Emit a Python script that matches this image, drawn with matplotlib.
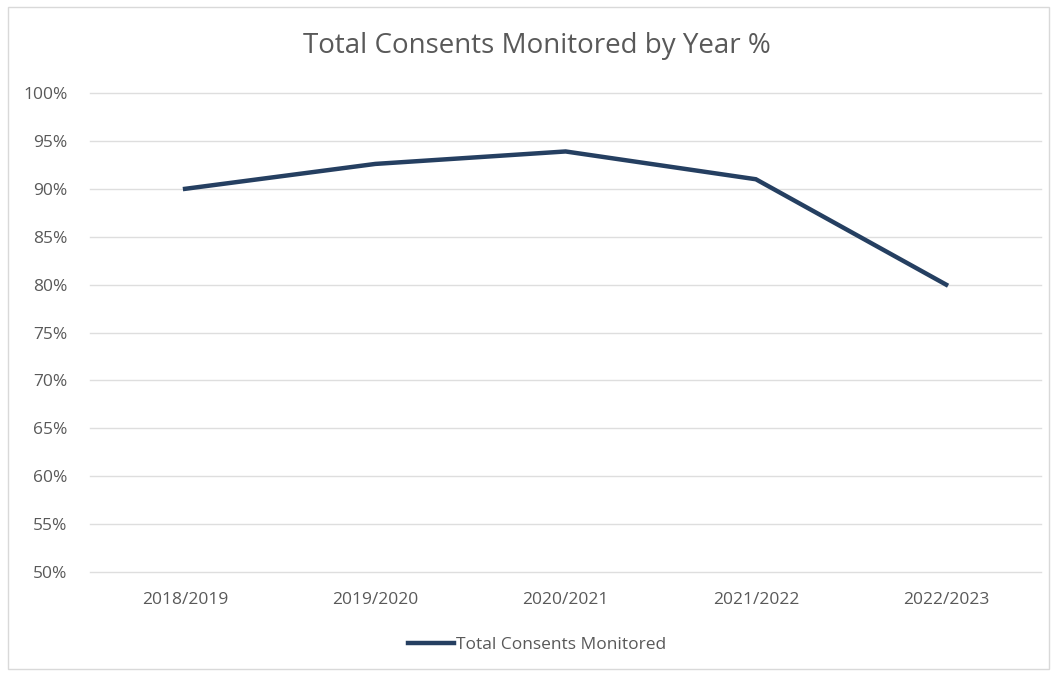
import matplotlib
matplotlib.use("Agg")
import matplotlib.pyplot as plt
from matplotlib.patches import Rectangle
from matplotlib.ticker import MultipleLocator, FuncFormatter

# data
years = ['2018/2019', '2019/2020', '2020/2021', '2021/2022', '2022/2023']
monitored = [90.0, 92.6, 93.9, 91.0, 80.0]

line_col = '#253f61'
text_col = '#595959'
grid_col = '#dedede'

plt.rcParams['font.family'] = ['Open Sans', 'DejaVu Sans']

fig = plt.figure(figsize=(10.57, 6.77), dpi=100)
ax = fig.add_axes([0.0851, 0.155, 0.9, 0.7076])

# chart frame
fig.patches.append(Rectangle((0.008, 0.012), 0.984, 0.977, transform=fig.transFigure,
                             fill=False, edgecolor='#d9d9d9', linewidth=1))

x = list(range(len(years)))
ax.plot(x, monitored, color=line_col, linewidth=3.2, solid_joinstyle='miter',
        label='Total Consents Monitored')

ax.set_xlim(-0.5, len(years) - 0.5)
ax.set_ylim(50, 100)
ax.yaxis.set_major_locator(MultipleLocator(5))
ax.yaxis.set_major_formatter(FuncFormatter(lambda v, p: f'{v:.0f}%'))
ax.set_xticks(x)
ax.set_xticklabels(years)

ax.grid(axis='y', color=grid_col, linewidth=1)
for gl in ax.get_ygridlines():
    gl.set_clip_on(False)
ax.set_axisbelow(True)
for s in ax.spines.values():
    s.set_visible(False)
ax.tick_params(axis='both', length=0, colors=text_col, labelsize=12.5)
ax.tick_params(axis='y', pad=16)
ax.tick_params(axis='x', pad=14)

fig.text(0.508, 0.932, 'Total Consents Monitored by Year %', ha='center', va='center',
         fontsize=20, color=text_col)

leg = fig.legend(loc='center', bbox_to_anchor=(0.508, 0.047), frameon=False,
                 fontsize=12.5, handlelength=2.7, handletextpad=0.1)
for t in leg.get_texts():
    t.set_color(text_col)

fig.savefig('out.png', dpi=100)
